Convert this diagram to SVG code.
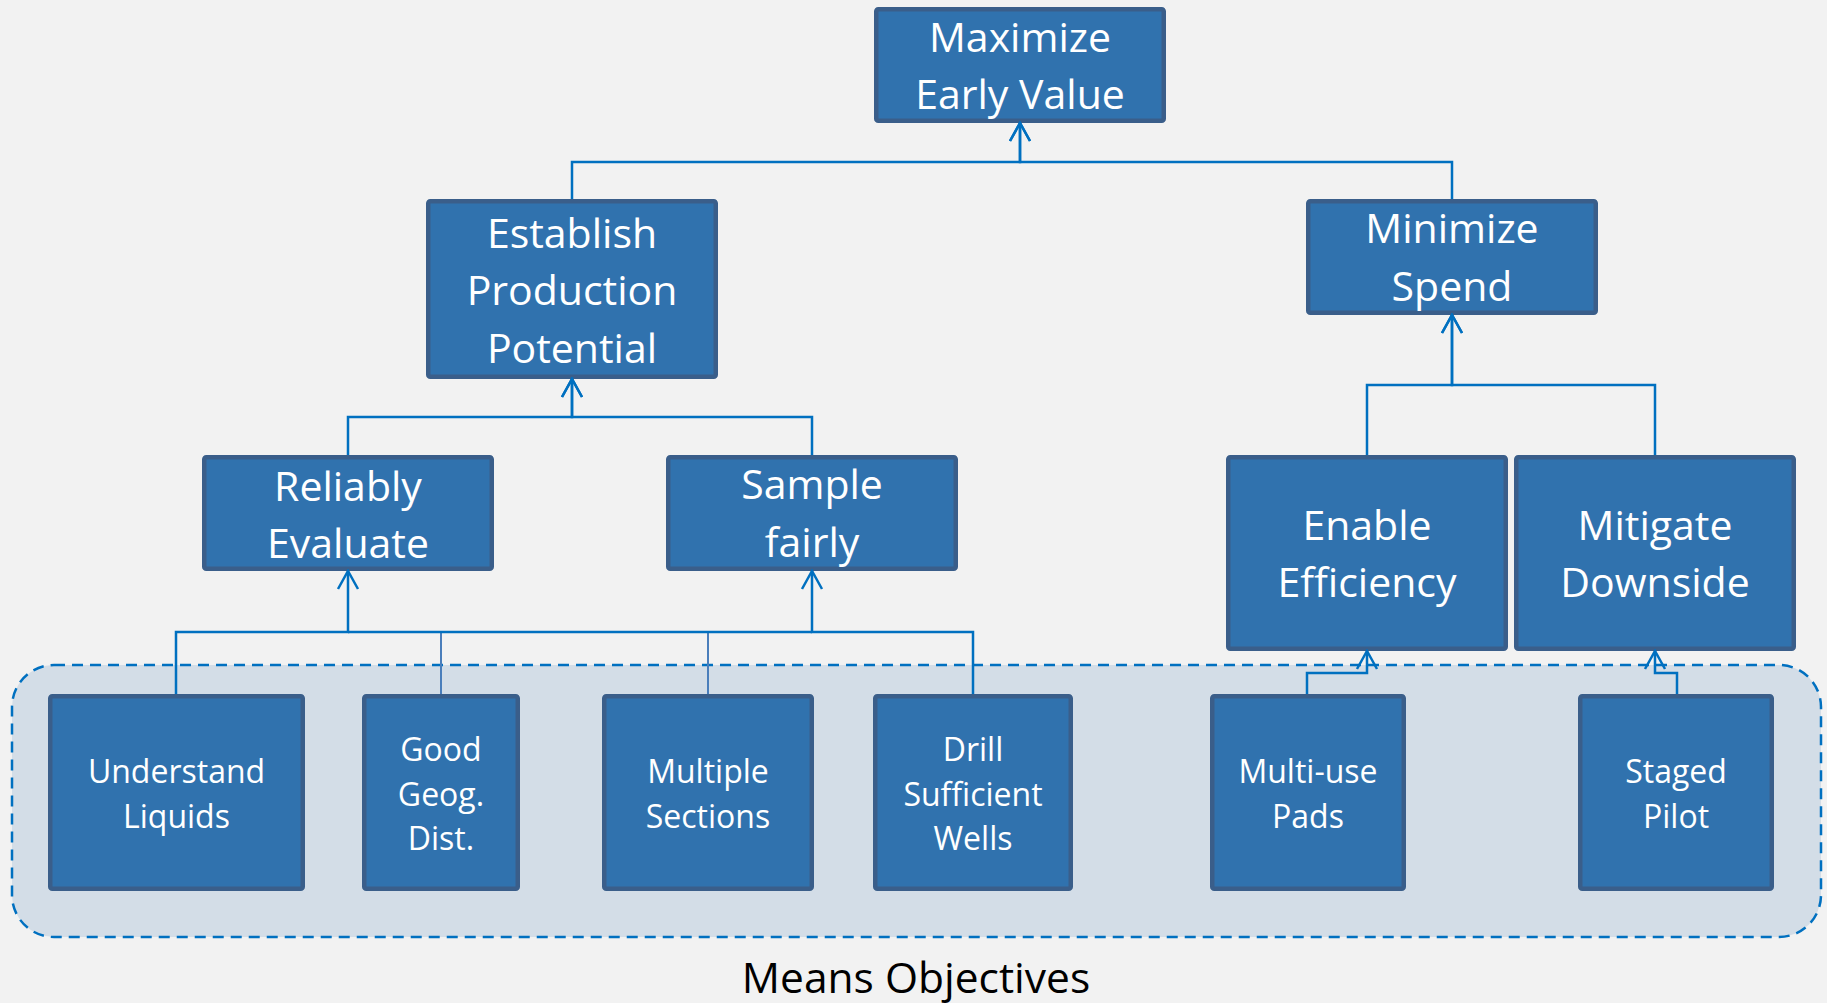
<svg xmlns="http://www.w3.org/2000/svg" width="1827" height="1003" viewBox="0 0 1827 1003">
  <style>
    .box { fill: #3072AE; stroke: #3A5E8A; stroke-width: 4.5; }
    .lbl { font-family: "Open Sans", "Liberation Sans", sans-serif; fill: #FFFFFF; text-anchor: middle; }
    .big { font-size: 41px; }
    .small { font-size: 32px; }
    .link { fill: none; stroke: #0070C0; stroke-width: 2.5; }
    .link.arrow { marker-end: url(#chevron); }
    .link.soft { stroke: #4A7EBB; stroke-width: 2; }
    .caption { font-family: "Open Sans", "Liberation Sans", sans-serif; font-size: 42.5px; fill: #000000; text-anchor: middle; }
  </style>
  <defs>
    <marker id="chevron" markerUnits="userSpaceOnUse" viewBox="-21 -12 23 24" refX="0" refY="0" markerWidth="23" markerHeight="24" orient="auto">
      <path d="M-18,-10 L0,0 L-18,10" fill="none" stroke="#0070C0" stroke-width="2.5"/>
    </marker>
  </defs>

  <rect width="1827" height="1003" fill="#F2F2F2"/>

  <!-- means objectives band -->
  <g id="means-band">
    <rect x="12" y="665" width="1809" height="272" rx="42" fill="#D3DDE7" stroke="#0070C0" stroke-width="2.5" stroke-dasharray="11 7"/>
    <text class="caption" x="916" y="993">Means Objectives</text>
  </g>

  <!-- nodes -->
  <g id="maximize-early-value">
    <rect class="box" x="876.25" y="9.25" width="287.5" height="111.5" rx="2"/>
    <text class="lbl big" x="1020" y="52">Maximize</text>
    <text class="lbl big" x="1020" y="109">Early Value</text>
  </g>
  <g id="establish-production-potential">
    <rect class="box" x="428.25" y="201.25" width="287.5" height="175.5" rx="2"/>
    <text class="lbl big" x="572" y="248">Establish</text>
    <text class="lbl big" x="572" y="305">Production</text>
    <text class="lbl big" x="572" y="363">Potential</text>
  </g>
  <g id="minimize-spend">
    <rect class="box" x="1308.25" y="201.25" width="287.5" height="111.5" rx="2"/>
    <text class="lbl big" x="1452" y="243">Minimize</text>
    <text class="lbl big" x="1452" y="301">Spend</text>
  </g>
  <g id="reliably-evaluate">
    <rect class="box" x="204.25" y="457.25" width="287.5" height="111.5" rx="2"/>
    <text class="lbl big" x="348" y="501">Reliably</text>
    <text class="lbl big" x="348" y="558">Evaluate</text>
  </g>
  <g id="sample-fairly">
    <rect class="box" x="668.25" y="457.25" width="287.5" height="111.5" rx="2"/>
    <text class="lbl big" x="812" y="499">Sample</text>
    <text class="lbl big" x="812" y="557">fairly</text>
  </g>
  <g id="enable-efficiency">
    <rect class="box" x="1228.25" y="457.25" width="277.5" height="191.5" rx="2"/>
    <text class="lbl big" x="1367" y="540">Enable</text>
    <text class="lbl big" x="1367" y="597">Efficiency</text>
  </g>
  <g id="mitigate-downside">
    <rect class="box" x="1516.25" y="457.25" width="277.5" height="191.5" rx="2"/>
    <text class="lbl big" x="1655" y="540">Mitigate</text>
    <text class="lbl big" x="1655" y="597">Downside</text>
  </g>
  <g id="understand-liquids">
    <rect class="box" x="50.25" y="696.25" width="252.5" height="192.5" rx="2"/>
    <text class="lbl small" x="176.5" y="783">Understand</text>
    <text class="lbl small" x="176.5" y="828">Liquids</text>
  </g>
  <g id="good-geog-dist">
    <rect class="box" x="364.25" y="696.25" width="153.5" height="192.5" rx="2"/>
    <text class="lbl small" x="441" y="761">Good</text>
    <text class="lbl small" x="441" y="806">Geog.</text>
    <text class="lbl small" x="441" y="850">Dist.</text>
  </g>
  <g id="multiple-sections">
    <rect class="box" x="604.25" y="696.25" width="207.5" height="192.5" rx="2"/>
    <text class="lbl small" x="708" y="783">Multiple</text>
    <text class="lbl small" x="708" y="828">Sections</text>
  </g>
  <g id="drill-sufficient-wells">
    <rect class="box" x="875.25" y="696.25" width="195.5" height="192.5" rx="2"/>
    <text class="lbl small" x="973" y="761">Drill</text>
    <text class="lbl small" x="973" y="806">Sufficient</text>
    <text class="lbl small" x="973" y="850">Wells</text>
  </g>
  <g id="multi-use-pads">
    <rect class="box" x="1212.25" y="696.25" width="191.5" height="192.5" rx="2"/>
    <text class="lbl small" x="1308" y="783">Multi-use</text>
    <text class="lbl small" x="1308" y="828">Pads</text>
  </g>
  <g id="staged-pilot">
    <rect class="box" x="1580.25" y="696.25" width="191.5" height="192.5" rx="2"/>
    <text class="lbl small" x="1676" y="783">Staged</text>
    <text class="lbl small" x="1676" y="828">Pilot</text>
  </g>

  <!-- connectors: each child feeds its parent objective -->
  <g id="connectors">
    <path class="link arrow" d="M572 199 V162 H1020 V123"/>
    <path class="link arrow" d="M1452 199 V162 H1020 V123"/>
    <path class="link arrow" d="M348 455 V417 H572 V379"/>
    <path class="link arrow" d="M812 455 V417 H572 V379"/>
    <path class="link arrow" d="M1367 455 V385 H1452 V315"/>
    <path class="link arrow" d="M1655 455 V385 H1452 V315"/>
    <path class="link soft" d="M441 694 V632"/>
    <path class="link soft" d="M708 694 V632"/>
    <path class="link arrow" d="M176 694 V632 H348 V571"/>
    <path class="link arrow" d="M973 694 V632 H812 V571"/>
    <path class="link" d="M348 632 H812"/>
    <path class="link arrow" d="M1307 694 V673 H1367 V651"/>
    <path class="link arrow" d="M1677 694 V673 H1655 V651"/>
  </g>
</svg>
